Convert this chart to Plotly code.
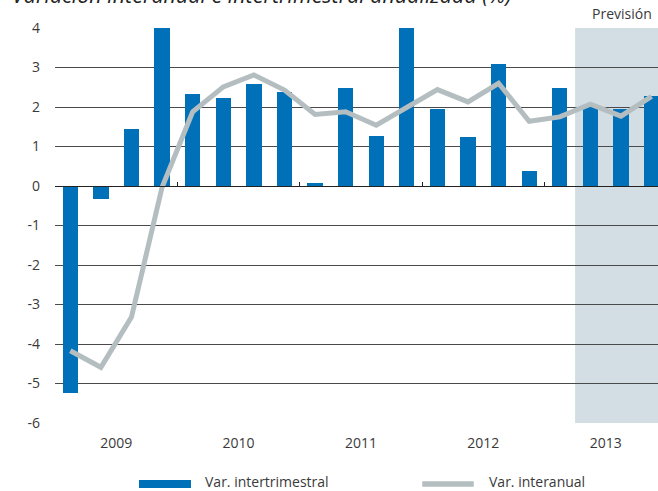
import plotly.graph_objects as go

# Quarterly data, 2009-2013
quarters = [
    "2009 T1", "2009 T2", "2009 T3", "2009 T4",
    "2010 T1", "2010 T2", "2010 T3", "2010 T4",
    "2011 T1", "2011 T2", "2011 T3", "2011 T4",
    "2012 T1", "2012 T2", "2012 T3", "2012 T4",
    "2013 T1", "2013 T2", "2013 T3", "2013 T4",
]
var_intertrimestral = [
    -5.25, -0.34, 1.44, 4.2,
    2.33, 2.22, 2.59, 2.38,
    0.07, 2.47, 1.26, 4.1,
    1.95, 1.24, 3.09, 0.37,
    2.48, 1.99, 1.96, 2.29,
]
var_interanual = [
    -4.17, -4.59, -3.32, -0.03,
    1.88, 2.51, 2.81, 2.43,
    1.81, 1.88, 1.54, 1.99,
    2.44, 2.13, 2.60, 1.64,
    1.75, 2.07, 1.77, 2.27,
]
years = ["2009", "2010", "2011", "2012", "2013"]
y_ticks = [4, 3, 2, 1, 0, -1, -2, -3, -4, -5, -6]
forecast_start = "2013 T2"

BLUE = "#0070b8"
GREY_LINE = "#b4bec0"
SHADE = "#d2dee4"
TEXT = "#3a3a3a"
FONT = "Open Sans"

pos = list(range(len(quarters)))
year_pos = [pos[quarters.index(y + " T1")] + 1.5 for y in years]
year_bounds = [-0.5] + [pos[quarters.index(y + " T1")] - 0.5 for y in years[1:]]
x_range = [-0.5, 19.21]

fig = go.Figure()

fig.add_trace(go.Bar(
    x=pos, y=var_intertrimestral, width=0.5,
    marker=dict(color=BLUE, line=dict(width=0)),
    name="Var. intertrimestral", showlegend=False,
))
fig.add_trace(go.Scatter(
    x=pos, y=var_interanual, mode="lines", xaxis="x2",
    line=dict(color=GREY_LINE, width=5),
    name="Var. interanual", showlegend=False,
))

# Forecast period shading
fig.add_shape(
    type="rect", xref="x", yref="y", layer="below",
    x0=pos[quarters.index(forecast_start)] - 0.5, x1=x_range[1] + 1,
    y0=-6, y1=4, fillcolor=SHADE, line=dict(width=0),
)

# Custom legend
fig.add_shape(type="rect", xref="paper", yref="paper",
              x0=0.1393, x1=0.2255, y0=-0.1646, y1=-0.1443,
              fillcolor=BLUE, line=dict(width=0))
fig.add_shape(type="line", xref="paper", yref="paper",
              x0=0.609, x1=0.6945, y0=-0.1544, y1=-0.1544,
              line=dict(color=GREY_LINE, width=5.5))
fig.add_annotation(text="Var. intertrimestral", xref="paper", yref="paper",
                   x=0.2454, y=-0.1485, xanchor="left", yanchor="middle",
                   showarrow=False, font=dict(family=FONT, size=14, color=TEXT))
fig.add_annotation(text="Var. interanual", xref="paper", yref="paper",
                   x=0.7164, y=-0.1485, xanchor="left", yanchor="middle",
                   showarrow=False, font=dict(family=FONT, size=14, color=TEXT))

# Title and forecast label
fig.add_annotation(text="<i>Variación interanual e intertrimestral anualizada (%)</i>",
                   xref="paper", yref="paper", x=-0.0746, y=1.0855,
                   xanchor="left", yanchor="middle", showarrow=False,
                   font=dict(family=FONT, size=21.5, color="#222222"))
fig.add_annotation(text="Previsión", xref="paper", yref="paper",
                   x=0.9395, y=1.0367, xanchor="center", yanchor="middle",
                   showarrow=False, font=dict(family=FONT, size=14, color=TEXT))

fig.update_layout(
    width=658, height=491,
    margin=dict(l=55, r=0, t=28, b=68),
    paper_bgcolor="white", plot_bgcolor="white",
    bargap=0,
    xaxis=dict(
        range=x_range, tickmode="array", tickvals=year_pos, ticktext=years,
        ticks="", showgrid=False, zeroline=False, showline=False,
        tickfont=dict(family=FONT, size=14, color=TEXT),
        ticklabelstandoff=10,
    ),
    xaxis2=dict(
        range=x_range, overlaying="x", anchor="free", position=0.6,
        side="bottom", showline=True, linecolor="#222222", linewidth=1,
        ticks="inside", ticklen=4, tickcolor="#222222", tickwidth=1,
        tickmode="array", tickvals=year_bounds, showticklabels=False,
        showgrid=False, zeroline=False,
    ),
    yaxis=dict(
        range=[-6, 4], tickmode="array", tickvals=y_ticks,
        ticktext=[str(v) for v in y_ticks],
        showgrid=True, gridcolor="#4a4a4a", gridwidth=1,
        zeroline=False, showline=False, ticks="",
        tickfont=dict(family=FONT, size=14, color=TEXT),
        ticklabelstandoff=14,
    ),
)

fig.write_html("out.html")
